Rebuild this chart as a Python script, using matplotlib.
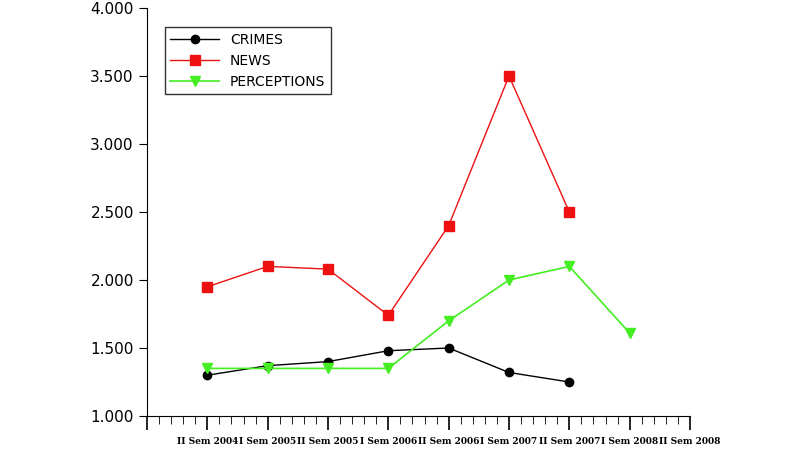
import matplotlib
matplotlib.use("Agg")
import matplotlib.pyplot as plt
from matplotlib.ticker import FixedLocator, MultipleLocator, FuncFormatter

labels = ["II Sem 2004","I Sem 2005","II Sem 2005","I Sem 2006","II Sem 2006",
          "I Sem 2007","II Sem 2007","I Sem 2008","II Sem 2008"]
crimes = [1.30,1.37,1.40,1.48,1.50,1.32,1.25]
news = [1.95,2.10,2.08,1.74,2.40,3.50,2.50]
perceptions = [1.35,1.35,1.35,1.35,1.70,2.00,2.10,1.61]

fig = plt.figure(figsize=(8,4.5), dpi=100)
ax = fig.add_axes([147/800, 1-416/450, (690-147)/800, (416-8)/450])
ax.plot(range(1,len(crimes)+1), crimes, color="black", marker="o", ms=6, lw=1, label="CRIMES")
ax.plot(range(1,len(news)+1), news, color="#ee1111", marker="s", ms=7, lw=1, label="NEWS")
ax.plot(range(1,len(perceptions)+1), perceptions, color="#44ee22", marker="v", ms=7, lw=1.2, label="PERCEPTIONS")
ax.set_xlim(0,9)
ax.set_ylim(1,4)
ax.xaxis.set_major_locator(FixedLocator(range(0,10)))
ax.xaxis.set_minor_locator(MultipleLocator(0.2))
ax.set_xticklabels([""]+labels, fontsize=6.5, family="DejaVu Serif", fontweight="bold")
ax.tick_params(axis="x", which="major", length=10, direction="out", pad=5, width=1.2)
ax.tick_params(axis="x", which="minor", length=6, direction="out")
ax.yaxis.set_major_locator(MultipleLocator(0.5))
ax.yaxis.set_major_formatter(FuncFormatter(lambda v,p: f"{v:.3f}"))
ax.tick_params(axis="y", labelsize=11, length=6, direction="out")
for s in ["top","right"]:
    ax.spines[s].set_visible(False)
leg = ax.legend(loc="upper left", bbox_to_anchor=(0.02,0.97), fancybox=False, edgecolor="black", fontsize=10, handlelength=3.5)
leg.get_frame().set_linewidth(1)
fig.savefig("out.png")
